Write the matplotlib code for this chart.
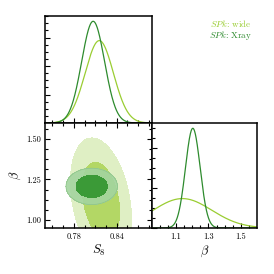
import numpy as np
import matplotlib
matplotlib.use('Agg')
import matplotlib.pyplot as plt
from matplotlib.ticker import MultipleLocator, AutoMinorLocator, FormatStrFormatter, NullFormatter

plt.rcParams['mathtext.fontset'] = 'cm'
plt.rcParams['font.family'] = 'serif'
plt.rcParams['font.serif'] = ['cmr10', 'DejaVu Serif']
plt.rcParams['axes.formatter.use_mathtext'] = True

# --- chart values
names = ['wide', 'Xray']
line_colors = ['#9acd32', '#2e8b2e']
# 1D marginals: mean, sigma, relative peak height
s8_mean = [0.8156, 0.807]
s8_sigma = [0.0198, 0.016]
s8_peak = [0.81, 1.0]
beta_mean = [1.14, 1.204]
beta_sigma = [0.18, 0.045]
beta_peak = [0.295, 1.0]
# 2D contours: centre, widths, correlation
c2_s8 = [0.818, 0.805]
c2_beta = [1.12, 1.207]
c2_s8_sigma = [0.0172, 0.0145]
c2_beta_sigma = [0.155, 0.045]
c2_rho = [-0.3, 0.0]
fill_colors = [['#dfefc4', '#b3d765'], ['#a3d49f', '#3b9a37']]

s8_lim = (0.74, 0.889)
beta_lim = (0.951, 1.597)

fig = plt.figure(figsize=(2.74, 2.74), dpi=100)
L, M, R = 0.1653, 0.5536, 0.9369
B, C, T = 0.1679, 0.5511, 0.9427
ax_s8 = fig.add_axes([L, C, M - L, T - C])
ax_2d = fig.add_axes([L, B, M - L, C - B])
ax_b = fig.add_axes([M, B, R - M, C - B])

for ax in [ax_s8, ax_2d, ax_b]:
    for sp in ax.spines.values():
        sp.set_linewidth(1.1)
    ax.tick_params(which='both', direction='in', labelsize=6, width=0.8, pad=3)
    ax.tick_params(which='major', length=3.5)
    ax.tick_params(which='minor', length=2.2)

# --- S8 1D
xs = np.linspace(*s8_lim, 400)
for m, s, p, c in zip(s8_mean, s8_sigma, s8_peak, line_colors):
    ax_s8.plot(xs, p * np.exp(-0.5 * ((xs - m) / s) ** 2), color=c, lw=0.9)
ax_s8.set_xlim(s8_lim)
ax_s8.set_ylim(0, 1.055)
ax_s8.xaxis.set_major_locator(MultipleLocator(0.06))
ax_s8.xaxis.set_minor_locator(AutoMinorLocator(4))
ax_s8.yaxis.set_major_locator(MultipleLocator(0.28))
ax_s8.yaxis.set_minor_locator(AutoMinorLocator(4))
ax_s8.xaxis.set_major_formatter(NullFormatter())
ax_s8.yaxis.set_major_formatter(NullFormatter())
ax_s8.tick_params(which='both', top=False, right=False)

# --- 2D contours
gx, gy = np.meshgrid(np.linspace(*s8_lim, 300), np.linspace(*beta_lim, 300))
for i in range(2):
    dx = (gx - c2_s8[i]) / c2_s8_sigma[i]
    dy = (gy - c2_beta[i]) / c2_beta_sigma[i]
    r = c2_rho[i]
    chi2 = (dx ** 2 - 2 * r * dx * dy + dy ** 2) / (1 - r ** 2)
    ax_2d.contourf(gx, gy, chi2, levels=[0, 6.17], colors=[fill_colors[i][0]],
                   alpha=0.9 if i == 1 else 1.0)
    if i == 1:
        ax_2d.contour(gx, gy, chi2, levels=[6.17], colors=['#8cc488'], linewidths=0.5)
    ax_2d.contourf(gx, gy, chi2, levels=[0, 2.30], colors=[fill_colors[i][1]])
ax_2d.set_xlim(s8_lim)
ax_2d.set_ylim(beta_lim)
ax_2d.xaxis.set_major_locator(MultipleLocator(0.06))
ax_2d.xaxis.set_minor_locator(AutoMinorLocator(4))
ax_2d.yaxis.set_major_locator(MultipleLocator(0.25))
ax_2d.yaxis.set_minor_locator(AutoMinorLocator(4))
ax_2d.xaxis.set_major_formatter(FormatStrFormatter('%.2f'))
ax_2d.yaxis.set_major_formatter(FormatStrFormatter('%.2f'))
ax_2d.tick_params(which='both', top=True, right=True)
ax_2d.set_xlabel(r'$S_8$', fontsize=9, labelpad=2)
ax_2d.set_ylabel(r'$\beta$', fontsize=9, labelpad=2)

# --- beta 1D
bs = np.linspace(*beta_lim, 400)
for m, s, p, c in zip(beta_mean, beta_sigma, beta_peak, line_colors):
    ax_b.plot(bs, p * np.exp(-0.5 * ((bs - m) / s) ** 2), color=c, lw=0.9)
ax_b.set_xlim(beta_lim)
ax_b.set_ylim(0, 1.053)
ax_b.xaxis.set_major_locator(MultipleLocator(0.2, offset=0.1))
ax_b.xaxis.set_minor_locator(AutoMinorLocator(4))
ax_b.yaxis.set_major_locator(MultipleLocator(0.4))
ax_b.yaxis.set_minor_locator(AutoMinorLocator(4))
ax_b.xaxis.set_major_formatter(FormatStrFormatter('%.1f'))
ax_b.yaxis.set_major_formatter(NullFormatter())
ax_b.tick_params(which='both', top=False, right=False)
ax_b.set_xlabel(r'$\beta$', fontsize=9, labelpad=2)

# --- legend text
for j, (n, c) in enumerate(zip(names, line_colors)):
    fig.text(0.918, 0.915 - j * 0.044, r'$SPk$: ' + n, color=c, fontsize=6.5,
             ha='right', va='center')

fig.savefig('out.png', dpi=100)
